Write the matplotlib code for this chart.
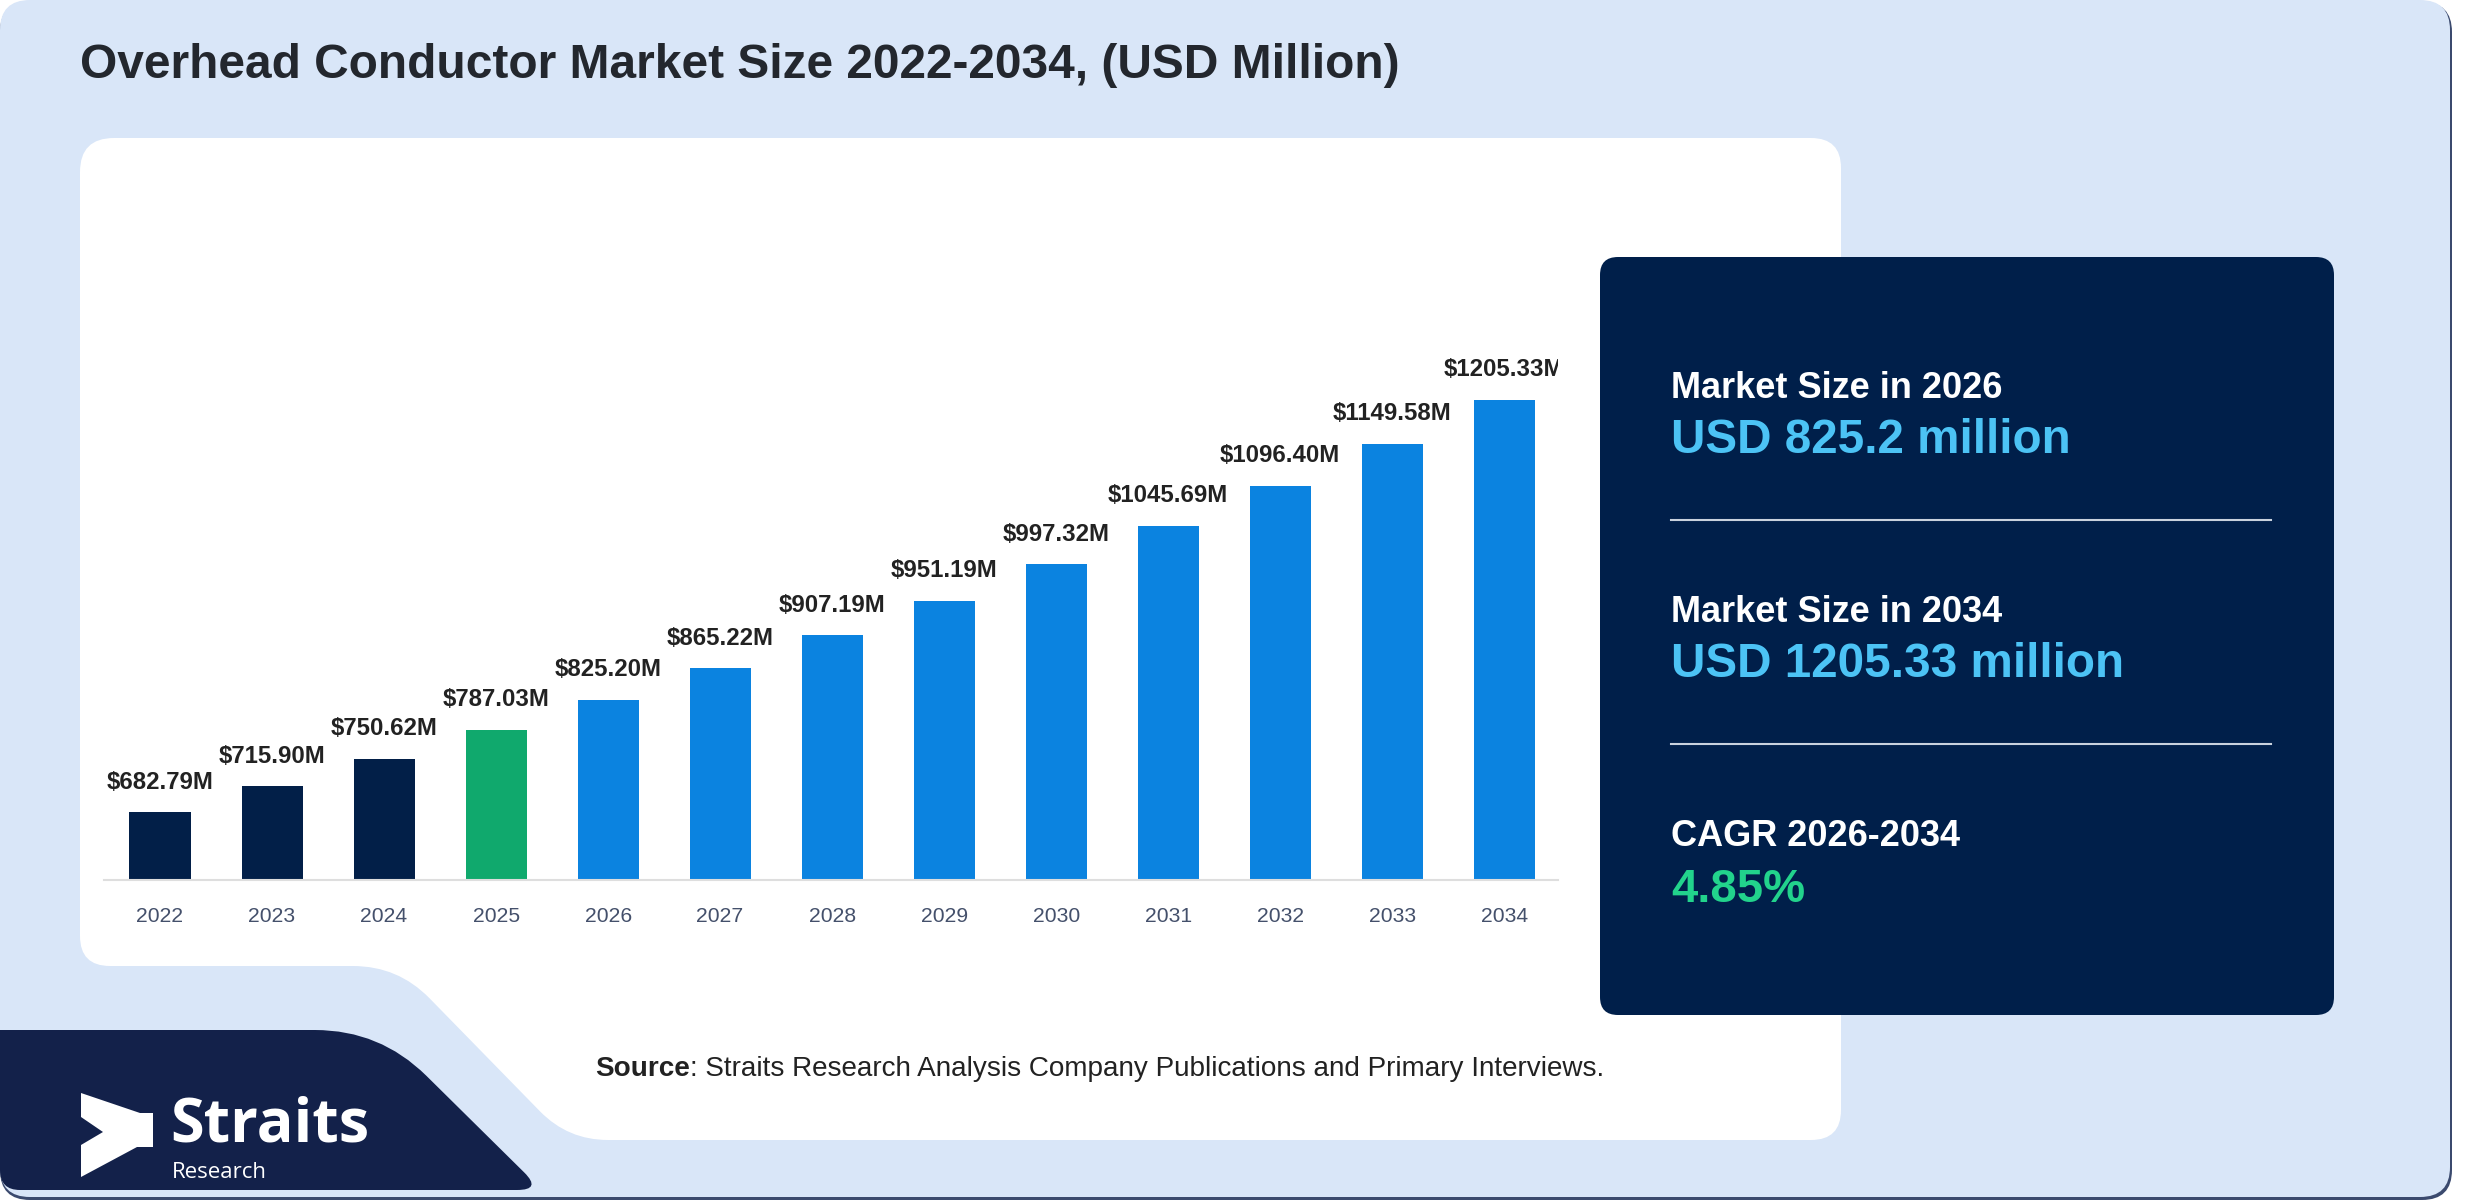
import numpy as np
import matplotlib
matplotlib.use("Agg")
import matplotlib.pyplot as plt
from matplotlib.patches import PathPatch, Polygon
from matplotlib.path import Path

plt.rcParams['font.family'] = ['Liberation Sans', 'DejaVu Sans']

# data
years = ["2022", "2023", "2024", "2025", "2026", "2027", "2028",
         "2029", "2030", "2031", "2032", "2033", "2034"]
values = [682.79, 715.90, 750.62, 787.03, 825.20, 865.22, 907.19,
          951.19, 997.32, 1045.69, 1096.40, 1149.58, 1205.33]
bar_labels = [f"${v:.2f}M" for v in values]
bar_colors = ["#021f48"] * 3 + ["#10a96d"] + ["#0b83e0"] * 9

size_2026 = values[years.index("2026")]
size_2034 = values[years.index("2034")]
cagr = ((size_2034 / size_2026) ** (1 / 8) - 1) * 100

W, H = 2480, 1200


def rounded(points, radii):
    # closed path with rounded corners (quadratic curves)
    n = len(points)
    if np.isscalar(radii):
        radii = [radii] * n
    verts, codes = [], []
    for i in range(n):
        p0 = np.array(points[i - 1], float)
        p1 = np.array(points[i], float)
        p2 = np.array(points[(i + 1) % n], float)
        d1, d2 = p0 - p1, p2 - p1
        l1, l2 = np.linalg.norm(d1), np.linalg.norm(d2)
        r = min(radii[i], l1 / 2, l2 / 2)
        a = p1 + d1 / l1 * r
        b = p1 + d2 / l2 * r
        verts.append(a)
        codes.append(Path.MOVETO if i == 0 else Path.LINETO)
        verts += [p1, b]
        codes += [Path.CURVE3, Path.CURVE3]
    verts.append(verts[0])
    codes.append(Path.CLOSEPOLY)
    return Path(verts, codes)


fig = plt.figure(figsize=(W / 100, H / 100), dpi=100)
fig.patch.set_facecolor("white")

bg = fig.add_axes([0, 0, 1, 1])
bg.set_xlim(0, W)
bg.set_ylim(H, 0)
bg.axis("off")

# outer light frame with a thin shadow
bg.add_patch(PathPatch(rounded([(0, 2), (2452, 2), (2452, 1200), (0, 1200)], 30),
                       fc="#3b4a6e", ec="none"))
bg.add_patch(PathPatch(rounded([(0, 0), (2450, 0), (2450, 1197), (0, 1197)], 30),
                       fc="#d9e6f8", ec="none"))

# white chart card with diagonal notch
card = [(80, 138), (1841, 138), (1841, 1140), (568, 1140), (398, 966), (80, 966)]
bg.add_patch(PathPatch(rounded(card, [34, 30, 30, 40, 45, 30]), fc="white", ec="none"))

# logo block
logo = [(0, 1030), (380, 1030), (542, 1190), (0, 1190)]
bg.add_patch(PathPatch(rounded(logo, [0, 65, 25, 20]), fc="#13214a", ec="none"))
chevron = [(81, 1093), (140, 1113), (153, 1113), (153, 1147), (137, 1147),
           (81, 1177), (81, 1145), (103, 1132), (81, 1117)]
bg.add_patch(Polygon(chevron, closed=True, fc="white", ec="none"))
bg.text(170, 1141, "Straits", fontsize=44, fontweight="bold", family="Open Sans",
        color="white", va="baseline")
bg.text(172, 1178, "Research", fontsize=16, family="Open Sans",
        color="white", va="baseline")

# title
bg.text(80, 78, "Overhead Conductor Market Size 2022-2034, (USD Million)",
        fontsize=34.5, fontweight="bold", color="#23272e", va="baseline")

# source line
src = bg.text(595, 1076, "Source", fontsize=20.1, fontweight="bold",
              color="#222222", va="baseline")
fig.canvas.draw()
ext = src.get_window_extent(fig.canvas.get_renderer())
bg.text(ext.x1, 1076, ": Straits Research Analysis Company Publications and Primary Interviews.",
        fontsize=20.1, color="#222222", va="baseline")

# summary panel
bg.add_patch(PathPatch(rounded([(1600, 257), (2334, 257), (2334, 1015), (1600, 1015)], 18),
                       fc="#001f4a", ec="none"))
tx = 1671
bg.text(tx, 398, "Market Size in 2026", fontsize=26, fontweight="bold",
        color="white", va="baseline")
bg.text(tx, 453, f"USD {size_2026:g} million", fontsize=34.3, fontweight="bold",
        color="#4cc3f5", va="baseline")
bg.plot([tx, 2271], [520, 520], color="#c9d2de", lw=1.5)
bg.text(tx, 622, "Market Size in 2034", fontsize=26, fontweight="bold",
        color="white", va="baseline")
bg.text(tx, 677, f"USD {size_2034:g} million", fontsize=34.3, fontweight="bold",
        color="#4cc3f5", va="baseline")
bg.plot([tx, 2271], [744, 744], color="#c9d2de", lw=1.5)
bg.text(tx, 846, "CAGR 2026-2034", fontsize=26, fontweight="bold",
        color="white", va="baseline")
bg.text(tx, 902, f"{cagr:.2f}%", fontsize=34, fontweight="bold",
        color="#22d38c", va="baseline")

# bar chart
left, right, base, top = 104, 1558, 880, 330
ax = fig.add_axes([left / W, 1 - base / H, (right - left) / W, (base - top) / H])
ax.set_facecolor("none")
x = np.arange(len(years))
ax.bar(x, values, width=0.545, color=bar_colors, zorder=2)
ax.set_xlim(-0.5, 12.48)
ax.set_ylim(597, 597 + (base - top) / 0.789)
ax.set_xticks(x)
ax.set_xticklabels(years)
ax.set_yticks([])
for s in ["top", "left", "right"]:
    ax.spines[s].set_visible(False)
ax.spines["bottom"].set_color("#dedede")
ax.spines["bottom"].set_linewidth(1.5)
ax.tick_params(axis="x", length=0, pad=19.5, labelsize=15.2, labelcolor="#44506b")

for xi, v, lab in zip(x, values, bar_labels):
    t = ax.annotate(lab, (xi, v), xytext=(0, 17), textcoords="offset points",
                    ha="center", va="baseline", fontsize=17.3, fontweight="bold",
                    color="#222222", annotation_clip=False)
    t.set_clip_box(ax.bbox)
    t.set_clip_on(True)

fig.savefig("out.png", dpi=100)
